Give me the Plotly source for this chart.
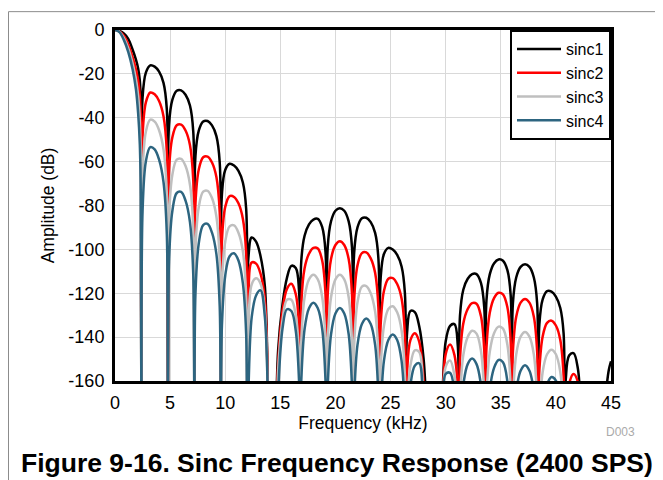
import plotly.graph_objects as go

# Frequency points (kHz): main lobe, then 8 points per sidelobe (null first)
freq_khz = [
    0, 0.4, 0.8, 1.2, 1.6, 1.9, 2.1, 2.25, 2.34,
    2.4, 2.5, 2.8, 3.2, 3.6, 4.0, 4.4, 4.7,
    4.8, 4.9, 5.2, 5.6, 6.0, 6.4, 6.8, 7.1,
    7.2, 7.3, 7.6, 8.0, 8.4, 8.8, 9.2, 9.5,
    9.6, 9.7, 10.0, 10.4, 10.8, 11.2, 11.6, 11.9,
    12.0, 12.1, 12.4, 12.8, 13.2, 13.6, 14.0, 14.3,
    14.4, 14.5, 14.8, 15.2, 15.6, 16.0, 16.4, 16.7,
    16.8, 16.9, 17.2, 17.6, 18.0, 18.4, 18.8, 19.1,
    19.2, 19.3, 19.6, 20.0, 20.4, 20.8, 21.2, 21.5,
    21.6, 21.7, 22.0, 22.4, 22.8, 23.2, 23.6, 23.9,
    24.0, 24.1, 24.4, 24.8, 25.2, 25.6, 26.0, 26.3,
    26.4, 26.5, 26.8, 27.2, 27.6, 28.0, 28.4, 28.7,
    28.8, 28.9, 29.2, 29.6, 30.0, 30.4, 30.8, 31.1,
    31.2, 31.3, 31.6, 32.0, 32.4, 32.8, 33.2, 33.5,
    33.6, 33.7, 34.0, 34.4, 34.8, 35.2, 35.6, 35.9,
    36.0, 36.1, 36.4, 36.8, 37.2, 37.6, 38.0, 38.3,
    38.4, 38.5, 38.8, 39.2, 39.6, 40.0, 40.4, 40.7,
    40.8, 40.9, 41.2, 41.6, 42.0, 42.4, 42.8, 43.1,
    43.2, 43.3, 43.6, 44.0, 44.4, 44.8, 45.0,
]

sinc1_db = [
    0, -0.4, -1.6, -4.0, -9.0, -13.5, -17.5, -23, -32,
    -180, -30.8, -19.4, -16.1, -16.7, -19.0, -24.1, -36.1,
    -180, -43.4, -31.9, -27.7, -27.5, -29.5, -34.4, -46.3,
    -180, -57.4, -45.9, -41.7, -41.5, -43.5, -48.4, -60.3,
    -180, -74.9, -63.8, -61.0, -61.8, -64.2, -69.5, -81.5,
    -180, -104, -94.6, -96.5, -103, -117, -185, -200,
    -200, -195, -146, -125, -113, -107.5, -108.5, -119,
    -180, -105.3, -93.8, -88.6, -86.4, -86.1, -89.9, -101.3,
    -180, -99.0, -87.2, -82.4, -81.2, -82.4, -87.2, -99.0,
    -180, -101.5, -90.0, -85.8, -85.6, -87.6, -92.5, -104.4,
    -180, -113.2, -102.1, -99.3, -100.1, -102.5, -107.8, -119.8,
    -180, -138, -128.1, -128.6, -135, -150, -185, -200,
    -200, -200, -200, -180, -142.0, -134.9, -134.1, -143.9,
    -180, -130.2, -118.4, -113.4, -111.3, -111.3, -115.3, -126.5,
    -180, -123.3, -111.4, -106.3, -104.6, -105.2, -109.5, -121.0,
    -180, -124.6, -112.8, -108.0, -106.8, -108.0, -112.8, -124.6,
    -180, -134.2, -122.8, -119.0, -119.3, -121.5, -126.7, -138.3,
    -180, -159, -148.4, -147.3, -154.5, -185, -200, -200,
    -200, -200, -200, -195, -172, -155, -151,
]

sinc2_db = [
    0, -0.6, -2.6, -6.5, -12.5, -18, -23, -30, -42,
    -180, -48.3, -33.0, -28.5, -29.3, -32.4, -39.3, -55.2,
    -180, -64.5, -49.0, -43.4, -43.1, -45.8, -52.4, -68.5,
    -180, -79.1, -63.6, -58.0, -57.7, -60.4, -67.0, -83.1,
    -180, -96.2, -80.7, -75.7, -76.1, -79.0, -86.0, -101.7,
    -180, -122, -106.0, -106.5, -111, -123, -185, -200,
    -200, -198, -152, -128, -118, -115.7, -120.4, -135.6,
    -180, -124.7, -108.6, -102.0, -99.3, -99.6, -105.2, -120.7,
    -180, -120.3, -104.4, -98.0, -96.3, -98.0, -104.4, -120.3,
    -180, -122.8, -107.3, -101.7, -101.4, -104.1, -110.7, -126.8,
    -180, -134.5, -119.0, -113.4, -113.1, -115.8, -122.4, -138.5,
    -180, -155.8, -141.4, -138.2, -142.0, -159.8, -185, -200,
    -200, -200, -200, -185, -147.8, -143.4, -148.2, -163.3,
    -180, -149.9, -133.8, -127.2, -124.5, -124.8, -130.4, -145.9,
    -180, -145.0, -128.9, -122.1, -119.8, -120.5, -126.4, -141.9,
    -180, -146.6, -130.7, -124.3, -122.6, -124.3, -130.7, -146.6,
    -180, -155.1, -139.7, -133.5, -132.5, -134.7, -141.3, -157.4,
    -185, -185, -161.4, -156.8, -160.5, -190, -200, -200,
    -200, -200, -200, -200, -200, -185, -172,
]

sinc3_db = [
    0, -0.8, -3.6, -8.3, -15.3, -22.5, -30, -41, -58,
    -180, -65.8, -46.4, -40.9, -41.8, -45.7, -54.4, -74.5,
    -180, -85.7, -66.1, -59.1, -58.7, -62.0, -70.4, -90.6,
    -180, -100.3, -80.7, -73.7, -73.3, -76.6, -85.0, -105.2,
    -180, -116.1, -96.5, -89.5, -89.1, -92.4, -100.8, -121.0,
    -180, -138, -116, -113.2, -115.5, -128, -185, -200,
    -200, -200, -155, -132, -123, -123, -130, -149,
    -180, -141.9, -121.8, -113.7, -111.6, -113.7, -121.8, -141.9,
    -180, -141.9, -121.8, -113.7, -111.6, -113.7, -121.8, -141.9,
    -180, -143.7, -124.1, -117.0, -116.7, -120.0, -128.4, -148.6,
    -180, -154.4, -135.0, -127.2, -125.9, -128.7, -137.0, -157.3,
    -185, -172.6, -153.0, -146.0, -146.8, -167, -185, -200,
    -200, -200, -200, -185, -153.6, -150.7, -157.5, -176,
    -185, -168.5, -148.2, -139.9, -137.1, -138.4, -146.2, -165.6,
    -185, -167.0, -146.7, -138.1, -135.2, -136.1, -143.5, -163.0,
    -185, -168.0, -147.9, -139.8, -137.7, -139.8, -147.9, -168.0,
    -185, -176.0, -155.9, -147.8, -145.7, -147.8, -155.9, -176.0,
    -190, -190, -185, -170, -180, -195, -200, -200,
    -200, -200, -200, -200, -200, -195, -190,
]

sinc4_db = [
    0, -1.0, -4.5, -10, -18, -27, -38, -52, -75,
    -180, -82.7, -59.9, -53.4, -54.4, -59.1, -69.3, -92.9,
    -180, -105.6, -82.6, -74.3, -73.8, -77.8, -87.6, -111.4,
    -180, -120.2, -97.2, -88.9, -88.4, -92.4, -102.2, -126.0,
    -180, -134.8, -112.0, -103.1, -101.8, -105.1, -115.4, -138.6,
    -180, -165, -131, -121, -118.7, -131, -185, -200,
    -200, -200, -165, -136, -127.3, -128.1, -137.1, -160.3,
    -180, -159.9, -136.3, -126.8, -124.3, -126.8, -136.3, -159.9,
    -180, -162.3, -138.7, -129.2, -126.7, -129.2, -138.7, -162.3,
    -180, -167.1, -143.5, -134.0, -131.5, -134.0, -143.5, -167.1,
    -185, -174.4, -150.8, -141.3, -138.8, -141.3, -150.8, -174.4,
    -190, -185, -162.1, -153.0, -151.9, -174.5, -185, -200,
    -200, -200, -200, -185, -156.8, -156.3, -165, -185,
    -190, -185.4, -161.8, -152.3, -149.8, -152.3, -161.8, -185.4,
    -190, -187.8, -164.0, -153.9, -150.4, -151.5, -160.2, -183.2,
    -190, -188.4, -164.8, -155.3, -152.8, -155.3, -164.8, -188.4,
    -195, -195, -171.3, -161.5, -158.2, -159.8, -168.9, -191.7,
    -200, -200, -200, -185, -195, -200, -200, -200,
    -200, -200, -200, -200, -200, -200, -200,
]

series_names = ["sinc1", "sinc2", "sinc3", "sinc4"]
series_colors = ["#000000", "#ff0000", "#bfbfbf", "#2d6580"]
x_ticks = [0, 5, 10, 15, 20, 25, 30, 35, 40, 45]
y_ticks = [0, -20, -40, -60, -80, -100, -120, -140, -160]

FONT = "Liberation Sans, Arial, Helvetica, sans-serif"

fig = go.Figure()
for name, vals, color in zip(series_names, [sinc1_db, sinc2_db, sinc3_db, sinc4_db], series_colors):
    fig.add_trace(go.Scatter(x=freq_khz, y=vals, name=name, mode="lines",
                             line=dict(color=color, width=2.5, shape="spline")))

# page body has an 8 px margin, so the figure is 8 px smaller than the window
fig.update_layout(
    width=655, height=472,
    margin=dict(l=107, r=52, t=19, b=99),
    paper_bgcolor="white", plot_bgcolor="white",
    font=dict(family=FONT, size=18, color="black"),
    legend=dict(x=1, y=1, xanchor="right", yanchor="top",
                bgcolor="white", bordercolor="black", borderwidth=2,
                itemwidth=44, font=dict(size=16)),
)
fig.update_xaxes(range=[0, 45], tickvals=x_ticks, ticktext=[str(v) for v in x_ticks],
                 showgrid=True, gridcolor="#d9d9d9", gridwidth=1, zeroline=False,
                 showline=True, linecolor="black", linewidth=3, mirror=True, ticks="",
                 ticklabelstandoff=3,
                 title=dict(text="Frequency (kHz)", font=dict(size=17.5), standoff=6))
fig.update_yaxes(range=[-160, 0], tickvals=y_ticks, ticktext=[str(v) for v in y_ticks],
                 showgrid=True, gridcolor="#d9d9d9", gridwidth=1, zeroline=False,
                 showline=True, linecolor="black", linewidth=3, mirror=True, ticks="",
                 ticklabelstandoff=4,
                 title=dict(text="Amplitude (dB)", font=dict(size=17.5), standoff=10))

fig.add_annotation(text="D003", xref="paper", yref="paper", x=1.052, y=-0.144,
                   xanchor="right", yanchor="middle", showarrow=False,
                   font=dict(size=12, color="#aaaaaa"))
fig.add_annotation(text="<b>Figure 9-16. Sinc Frequency Response (2400 SPS)</b>",
                   xref="paper", yref="paper", x=0.4476, y=-0.2345,
                   xanchor="center", yanchor="middle", showarrow=False,
                   font=dict(size=26.5, color="black"))
fig.add_shape(type="rect", xref="paper", yref="paper",
              x0=-0.2147, x1=1.12, y0=-0.32, y1=1.0523,
              line=dict(color="#8c8c8c", width=1))

fig.write_html("out.html")
